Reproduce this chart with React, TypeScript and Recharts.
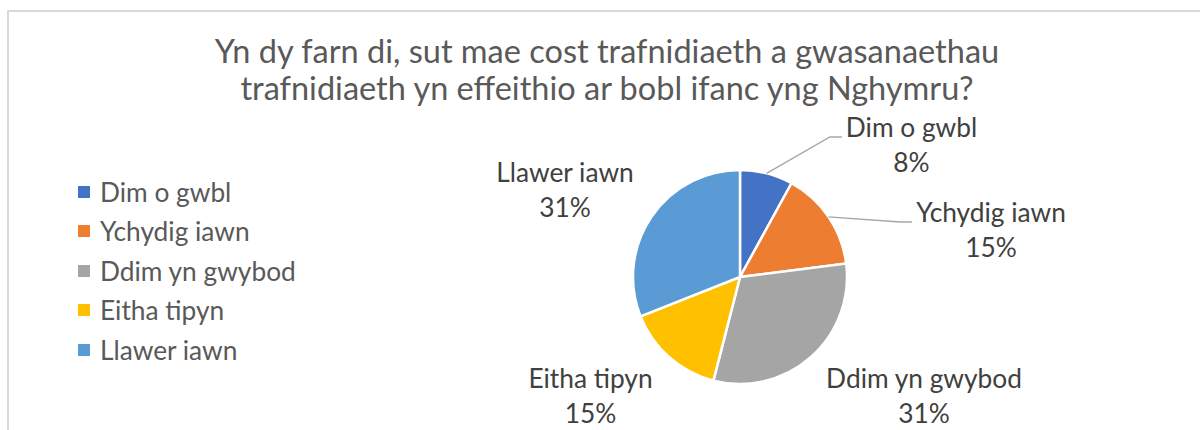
import React from 'react';
import { PieChart, Pie, Cell } from 'recharts';

const categories = ['Dim o gwbl', 'Ychydig iawn', 'Ddim yn gwybod', 'Eitha tipyn', 'Llawer iawn'];
const shares = [8, 15, 31, 15, 31];
const colors = ['#4472C4', '#ED7D31', '#A5A5A5', '#FFC000', '#5B9BD5'];
const titleLines = [
  'Yn dy farn di, sut mae cost trafnidiaeth a gwasanaethau',
  'trafnidiaeth yn effeithio ar bobl ifanc yng Nghymru?',
];

const data = categories.map((name, i) => ({ name, value: shares[i] }));

// label anchor offsets from the pie centre (centre x of block, first baseline)
const LABEL_OFFSET: [number, number][] = [
  [171.5, -140],
  [251, -55],
  [184, 111],
  [-149.5, 111],
  [-175, -95],
];
const LEADER = [true, true, false, false, false];

const FONT = 'Lato, "Noto Sans", sans-serif';
const LABEL_SIZE = 26.3;
const TITLE_SIZE = 32.5;
const LEGEND_SIZE = 26.3;

let ctx: CanvasRenderingContext2D | null = null;
function textWidth(t: string, size: number): number {
  if (!ctx) {
    const c = document.createElement('canvas');
    ctx = c.getContext('2d');
  }
  if (!ctx) return t.length * size * 0.5;
  ctx.font = `${size}px Lato`;
  return ctx.measureText(t).width;
}

const RAD = Math.PI / 180;

const renderLabel = (p: any) => {
  const { cx, cy, midAngle, outerRadius, index, name, percent } = p;
  const [dx, dy] = LABEL_OFFSET[index];
  const x = cx + dx;
  const y = cy + dy;
  let line = null;
  if (LEADER[index]) {
    const sx = cx + outerRadius * Math.cos(-midAngle * RAD);
    const sy = cy + outerRadius * Math.sin(-midAngle * RAD);
    const left = x - textWidth(name, LABEL_SIZE) / 2;
    line = (
      <polyline
        points={`${sx},${sy} ${left - 16},${y} ${left - 4},${y}`}
        fill="none"
        stroke="#A6A6A6"
        strokeWidth={1.3}
      />
    );
  }
  return (
    <g key={`lab-${index}`}>
      {line}
      <text x={x} y={y} textAnchor="middle" fill="#404040" fontSize={LABEL_SIZE} fontFamily={FONT}>
        <tspan x={x} y={y}>{name}</tspan>
        <tspan x={x} y={y + 35}>{`${Math.round(percent * 100)}%`}</tspan>
      </text>
    </g>
  );
};

export default function App() {
  return (
    <div style={{ position: 'absolute', left: 0, top: 0, width: 1200, height: 430, background: '#fff', overflow: 'hidden', fontFamily: FONT }}>
      <div style={{ position: 'absolute', left: 7, top: 10, width: 1300, height: 500, borderTop: '2px solid #D9D9D9', borderLeft: '2px solid #D9D9D9' }} />
      <svg width={1200} height={120} style={{ position: 'absolute', left: 0, top: 0 }}>
        {titleLines.map((t, i) => (
          <text key={i} x={607} y={63 + i * 37} textAnchor="middle" fill="#595959" fontSize={TITLE_SIZE} fontFamily={FONT}>
            {t}
          </text>
        ))}
      </svg>
      <div style={{ position: 'absolute', left: 78, top: 172 }}>
        {categories.map((c, i) => (
          <div key={c} style={{ height: 39.5, display: 'flex', alignItems: 'center' }}>
            <span style={{ width: 12, height: 12, background: colors[i], display: 'inline-block', marginRight: 10 }} />
            <span style={{ fontSize: LEGEND_SIZE, color: '#595959', lineHeight: 1 }}>{c}</span>
          </div>
        ))}
      </div>
      <div style={{ position: 'absolute', left: 0, top: 0 }}>
        <PieChart width={1200} height={430} margin={{ top: 0, right: 0, bottom: 0, left: 0 }}>
          <Pie
            data={data}
            dataKey="value"
            nameKey="name"
            cx={740}
            cy={277}
            outerRadius={107}
            startAngle={90}
            endAngle={-270}
            stroke="#FFFFFF"
            strokeWidth={2.5}
            label={renderLabel}
            labelLine={false}
            isAnimationActive={false}
          >
            {data.map((d, i) => (
              <Cell key={d.name} fill={colors[i]} />
            ))}
          </Pie>
        </PieChart>
      </div>
    </div>
  );
}
